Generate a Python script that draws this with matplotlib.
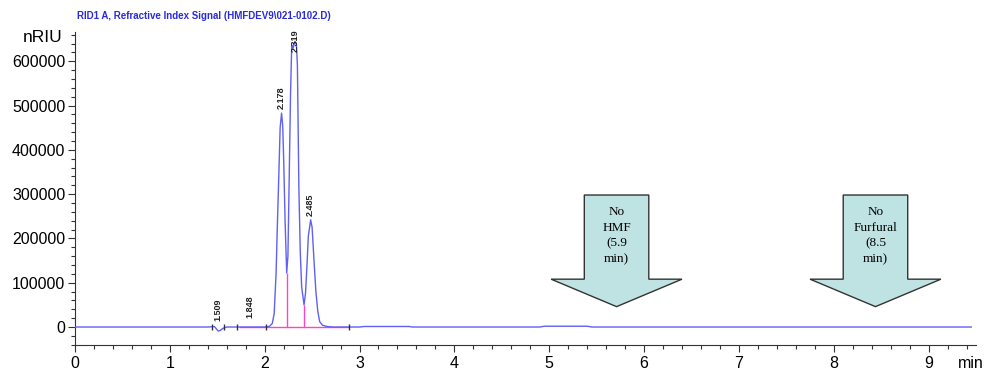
import numpy as np
import matplotlib.pyplot as plt
from matplotlib.patches import Polygon
from matplotlib.ticker import MultipleLocator

plt.rcParams['font.family'] = ['Liberation Sans', 'DejaVu Sans']

# chromatogram trace (time in min, signal in nRIU)
times = [0.0, 1.40, 1.47, 1.49, 1.51, 1.53, 1.56, 1.60, 2.00, 2.05, 2.08,
         2.10, 2.12, 2.135, 2.15, 2.163, 2.178, 2.19, 2.20, 2.215, 2.232,
         2.245, 2.258, 2.272, 2.285, 2.30, 2.319, 2.335, 2.345, 2.36, 2.375,
         2.39, 2.415, 2.43, 2.445, 2.46, 2.485, 2.50, 2.52, 2.54, 2.56,
         2.58, 2.61, 2.66, 2.72, 3.0, 3.05, 3.52, 3.56, 4.9, 4.95, 5.4,
         5.45, 9.45]
signal = [0, 0, 1000, -4000, -9000, -8000, -3000, 0, 0, 1500, 8000,
          30000, 120000, 240000, 350000, 450000, 483000, 455000, 380000,
          240000, 122000, 160000, 330000, 520000, 636000, 630000, 645000,
          638000, 590000, 320000, 170000, 90000, 50000, 75000, 135000,
          205000, 242000, 225000, 150000, 80000, 35000, 12000, 4000, 1000,
          0, 0, 1200, 1200, 0, 0, 1800, 1800, 0, 0]

peak_times = [1.509, 1.848, 2.178, 2.319, 2.485]
peak_labels = ["1.509", "1.848", "2.178", "2.319", "2.485"]
peak_heights = [4000, 10000, 483000, 612000, 242000]

baseline_span = [1.74, 2.89]
drop_times = [2.232, 2.415]
event_times = [1.44, 1.57, 1.71, 2.01, 2.89]

arrow_times = [5.71, 8.44]
arrow_texts = ["No\nHMF\n(5.9\nmin)", "No\nFurfural\n(8.5\nmin)"]


def main():
    fig = plt.figure(figsize=(9.86, 3.71), dpi=100)
    ax = fig.add_axes([75 / 986, 26 / 371, 901 / 986, 313 / 371])

    ax.plot(times, signal, color="#6060f4", lw=1.0, zorder=3)

    # integration baseline and drop lines
    ax.plot(baseline_span, [0, 0], color="#ff44cc", lw=1.0, zorder=2)
    drop_vals = np.interp(drop_times, times, signal)
    ax.vlines(drop_times, 0, drop_vals, color="#ff44cc", lw=1.0, zorder=2)
    ax.plot(event_times, np.zeros(len(event_times)), ls="none", marker="|",
            ms=5, mew=1, color="#333333", zorder=4)

    for t, lab, h in zip(peak_times, peak_labels, peak_heights):
        ax.annotate(lab, (t, h), xytext=(0, 3), textcoords="offset points",
                    rotation=90, ha="center", va="bottom", fontsize=6.5,
                    color="#222222", fontweight="bold", annotation_clip=False)

    # block arrows marking where HMF and furfural would elute
    for t, txt in zip(arrow_times, arrow_texts):
        verts = [(t - 0.34, 298000), (t + 0.34, 298000), (t + 0.34, 108000),
                 (t + 0.69, 108000), (t, 46000), (t - 0.69, 108000),
                 (t - 0.34, 108000)]
        ax.add_patch(Polygon(verts, closed=True, facecolor="#bfe3e3",
                             edgecolor="#333333", lw=1.0, zorder=5))
        ax.text(t, 206000, txt, ha="center", va="center", fontsize=9.5,
                family="Liberation Serif", linespacing=1.4, zorder=6)

    ax.set_xlim(0, 9.5)
    ax.set_ylim(-40600, 666000)
    ax.set_xticks(range(0, 10))
    ax.xaxis.set_minor_locator(MultipleLocator(0.2))
    ax.set_yticks(range(0, 700000, 100000))
    ax.yaxis.set_minor_locator(MultipleLocator(20000))
    ax.tick_params(which="major", length=5, width=0.8, labelsize=11.5,
                   color="#333333")
    ax.tick_params(which="minor", length=3, width=0.8, color="#333333")
    ax.tick_params(axis="y", pad=2)
    ax.tick_params(axis="x", pad=3)
    for s in ["top", "right"]:
        ax.spines[s].set_visible(False)
    for s in ["left", "bottom"]:
        ax.spines[s].set_color("#333333")
        ax.spines[s].set_linewidth(0.8)

    fig.text(63 / 986, 1 - 37 / 371, "nRIU", ha="right", va="center",
             fontsize=12.5)
    fig.text(958 / 986, 1 - 363 / 371, "min", ha="left", va="center",
             fontsize=11.5)
    fig.text(77 / 986, 1 - 16 / 371,
             "RID1 A, Refractive Index Signal (HMFDEV9\\021-0102.D)",
             ha="left", va="center", fontsize=7.0, color="#2b2bdd",
             fontweight="bold")

    plt.savefig("out.png", dpi=100)


if __name__ == '__main__':
    main()
